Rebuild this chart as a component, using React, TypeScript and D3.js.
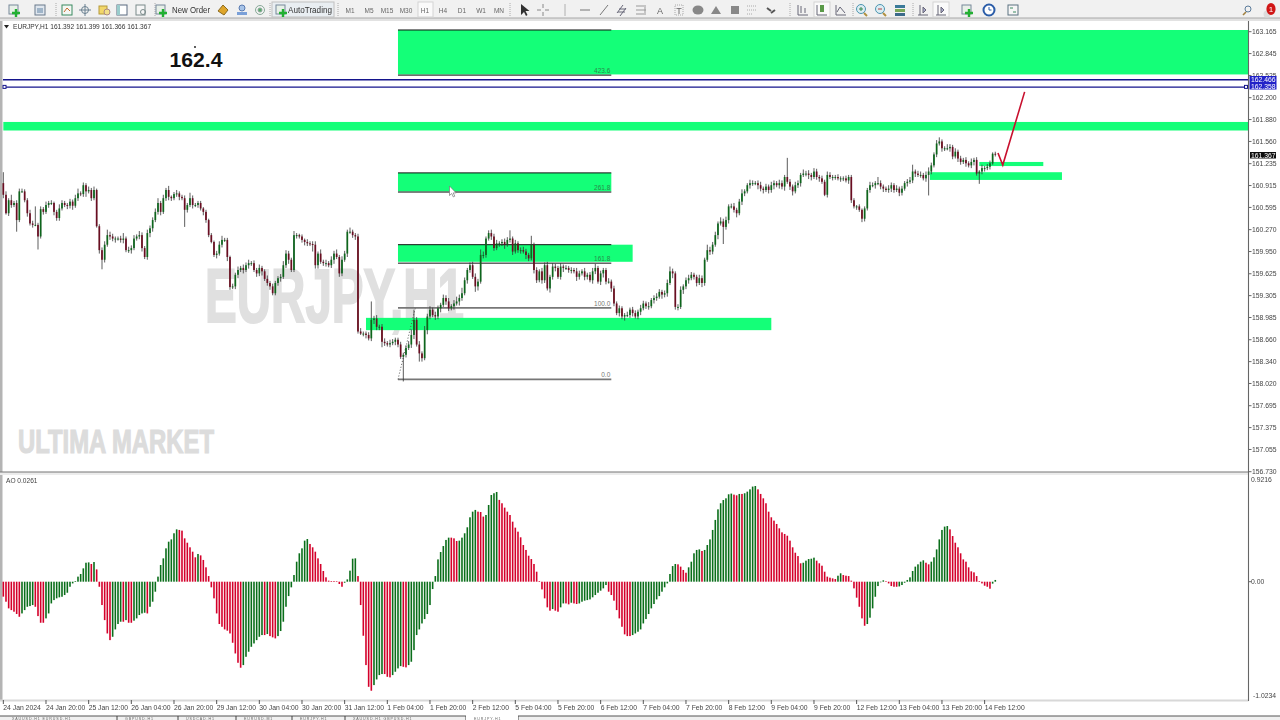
import React from "react";
import * as d3 from "d3";

const closes = [
160.78,160.51,160.70,160.63,160.66,160.41,160.83,160.83,160.70,160.51,
160.36,160.34,160.34,160.17,160.57,160.53,160.63,160.66,160.66,160.53,
160.44,160.58,160.66,160.63,160.62,160.68,160.62,160.73,160.80,160.79,
160.92,160.83,160.85,160.73,160.85,160.32,159.97,159.83,160.05,160.19,
160.17,160.14,160.14,160.14,160.12,160.14,159.97,159.97,160.00,160.14,
160.17,160.19,160.00,159.87,160.22,160.29,160.41,160.53,160.66,160.53,
160.73,160.85,160.75,160.73,160.79,160.80,160.75,160.73,160.56,160.63,
160.73,160.63,160.63,160.66,160.58,160.53,160.41,160.19,160.09,159.90,
159.92,160.05,160.12,160.12,159.87,159.43,159.44,159.61,159.68,159.71,
159.68,159.75,159.78,159.78,159.68,159.63,159.71,159.66,159.55,159.49,
159.44,159.34,159.49,159.56,159.58,159.75,159.92,159.83,159.68,160.19,
160.19,160.17,160.12,160.09,160.07,160.06,160.05,159.75,159.92,159.80,
159.78,159.78,159.75,
159.83,159.92,159.87,159.63,159.83,159.92,160.24,160.24,160.19,160.17,
158.78,158.75,158.75,158.73,158.68,158.95,158.97,158.85,158.85,158.63,
158.61,158.59,158.61,158.63,158.66,158.59,158.41,158.44,158.54,158.59,
158.73,158.95,158.59,158.46,158.39,158.80,159.00,159.10,159.02,159.00,
159.12,159.17,159.27,159.22,159.12,159.15,159.19,159.22,159.27,159.34,
159.53,159.68,159.75,159.58,159.44,159.51,159.90,159.90,160.14,160.22,
160.17,160.00,160.07,160.07,160.09,160.05,160.12,160.14,159.95,160.07,
159.97,159.97,159.95,159.90,159.85,160.05,159.68,159.53,159.66,159.53,
159.75,159.41,159.58,159.73,159.71,159.58,159.73,159.71,159.71,159.68,
159.68,159.66,159.58,159.63,159.66,159.58,159.61,159.53,159.66,159.71,
159.51,159.63,159.68,159.51,159.51,159.41,159.19,159.05,159.12,159.00,
159.02,159.02,159.10,159.05,159.00,159.07,159.12,159.19,159.15,159.15,
159.24,159.27,159.29,159.36,
159.32,159.34,159.49,159.66,159.63,159.14,159.14,159.39,159.44,159.53,
159.56,159.61,159.58,159.49,159.56,159.49,159.83,159.97,159.95,160.05,
160.19,160.36,160.39,160.31,160.41,160.61,160.61,160.56,160.51,160.68,
160.80,160.83,160.92,160.95,160.95,160.95,160.92,160.87,160.85,160.90,
160.85,160.92,160.95,160.92,160.95,160.90,161.04,160.97,160.90,160.83,
160.92,160.95,161.07,161.09,161.09,161.07,161.04,161.12,161.04,161.02,
160.97,160.78,161.07,161.04,161.04,161.04,161.02,161.02,161.02,160.99,
161.04,160.70,160.61,160.61,160.56,160.43,160.58,160.85,160.92,160.92,
160.95,160.95,160.90,160.87,160.85,160.87,160.92,160.85,160.87,160.81,
160.87,160.95,160.97,160.99,161.12,161.09,161.07,161.07,161.02,161.07,
161.12,161.21,161.37,161.53,161.56,161.46,161.46,161.46,161.48,161.34,
161.41,161.31,161.26,161.29,161.24,161.21,161.26,161.29,161.09,161.12,
161.17,161.17,161.19,161.24,161.38,161.37,
];

const wickUp = [
.16,.05,.03,.08,.03,.04,.04,.04,.03,.03,
.05,.04,.27,.03,.04,.03,.05,.03,.04,.02,
.03,.06,.04,.03,.03,.04,.03,.05,.07,.03,
.04,.03,.05,.03,.05,.02,.03,.04,.05,.08,
.05,.04,.03,.03,.04,.08,.03,.05,.04,.05,
.03,.06,.04,.03,.05,.04,.04,.05,.07,.03,
.05,.03,.06,.02,.03,.05,.03,.03,.04,.03,
.08,.04,.03,.03,.03,.02,.03,.02,.03,.02,
.04,.05,.06,.03,.03,.02,.04,.03,.05,.03,
.05,.04,.05,.03,.04,.03,.05,.03,.03,.05,
.03,.04,.03,.03,.04,.06,.05,.04,.03,.06,
.03,.02,.03,.02,.04,.03,.04,.05,.03,.06,
.03,.05,.03,.05,.04,.06,.03,.05,.04,.03,
.06,.03,.03,.04,.05,.03,.03,.04,.27,.04,
.05,.03,.04,.05,.03,.05,.04,.03,.03,.04,
.03,.04,.05,.08,.15,.04,.05,.03,.06,.04,
.05,.03,.05,.04,.03,.05,.04,.05,.03,.05,
.07,.05,.08,.04,.03,.04,.05,.05,.04,.08,
.05,.03,.04,.05,.04,.05,.03,.04,.05,.04,
.12,.03,.05,.03,.04,.05,.04,.03,.13,.03,
.04,.03,.05,.04,.05,.03,.05,.04,.03,.05,
.03,.04,.03,.04,.03,.05,.04,.03,.05,.03,
.04,.05,.06,.03,.04,.03,.03,.05,.03,.04,
.03,.04,.03,.03,.05,.03,.04,.04,.03,.05,
.04,.03,.06,.03,.04,.05,.04,.03,.04,.05,
.07,.04,.03,.04,.05,.03,.04,.05,.04,.03,
.03,.05,.04,.03,.08,.05,.04,.05,.03,.06,
.04,.05,.03,.04,.05,.03,.04,.06,.03,.03,
.05,.04,.03,.04,.05,.03,.04,.03,.05,.04,
.03,.05,.04,.03,.28,.04,.03,.05,.04,.03,
.06,.04,.05,.03,.05,.04,.03,.04,.03,.05,
.04,.03,.03,.04,.03,.03,.04,.03,.03,.03,
.02,.03,.02,.03,.03,.05,.04,.03,.09,.04,
.03,.03,.05,.04,.03,.05,.03,.04,.03,.04,
.05,.10,.03,.04,.05,.03,.05,.06,.04,.03,
.05,.06,.03,.03,.06,.04,.03,.05,.03,.04,
.03,.04,.03,.05,.03,.04,.02,.05,.03,.04,
.04,.02,.03,
];

const wickDown = [
.05,.02,.04,.04,.03,.17,.03,.02,.03,.05,
.03,.04,.02,.19,.03,.04,.03,.04,.03,.05,
.04,.04,.03,.03,.05,.04,.06,.03,.04,.03,
.04,.08,.03,.04,.03,.02,.05,.14,.04,.03,
.05,.04,.06,.03,.04,.05,.03,.04,.05,.03,
.03,.04,.05,.03,.04,.06,.05,.03,.04,.05,
.03,.04,.05,.04,.03,.04,.05,.03,.25,.04,
.03,.05,.03,.04,.03,.05,.04,.03,.02,.03,
.05,.03,.04,.03,.06,.04,.03,.04,.05,.03,
.05,.03,.05,.04,.03,.05,.04,.06,.03,.04,
.05,.03,.03,.04,.05,.03,.04,.06,.03,.03,
.05,.03,.04,.05,.04,.03,.10,.05,.05,.03,
.04,.05,.03,.04,.06,.03,.05,.04,.03,.05,
.03,.04,.05,.03,.02,.04,.05,.03,.04,.06,
.05,.05,.08,.04,.03,.04,.03,.05,.04,.03,
.36,.04,.03,.05,.06,.03,.12,.05,.03,.06,
.04,.03,.05,.04,.06,.03,.05,.04,.03,.05,
.03,.06,.04,.03,.05,.04,.03,.08,.06,.03,
.05,.04,.03,.05,.04,.03,.05,.04,.06,.03,
.04,.05,.03,.04,.05,.03,.06,.04,.03,.05,
.04,.03,.05,.04,.03,.06,.04,.05,.03,.04,
.06,.03,.04,.05,.03,.06,.04,.03,.05,.04,
.03,.05,.04,.03,.05,.06,.04,.03,.05,.04,
.03,.05,.04,.06,.03,.04,.05,.03,.04,.05,
.03,.04,.05,.03,.05,.04,.03,.06,.04,.05,
.03,.07,.04,.05,.03,.06,.04,.05,.03,.04,
.05,.03,.06,.04,.03,.05,.04,.03,.06,.03,
.25,.04,.05,.03,.04,.06,.03,.05,.04,.03,
.05,.04,.03,.06,.04,.05,.03,.05,.04,.06,
.03,.05,.04,.06,.03,.05,.06,.03,.04,.05,
.03,.04,.06,.05,.03,.04,.05,.03,.02,.04,
.03,.05,.04,.03,.05,.04,.03,.05,.04,.03,
.05,.03,.05,.04,.03,.04,.03,.05,.03,.04,
.05,.03,.04,.05,.04,.03,.05,.04,.03,.05,
.03,.04,.05,.03,.04,.03,.05,.30,.04,.03,
.04,.03,.05,.04,.03,.05,.04,.03,.05,.04,
.03,.05,.03,.04,.05,.03,.15,.04,.05,.03,
.04,.02,.03,
];

const aoValues = [
-0.13,-0.174,-0.232,-0.247,-0.261,-0.281,-0.305,-0.276,-0.247,-0.218,
-0.212,-0.203,-0.218,-0.299,-0.357,-0.357,-0.319,-0.276,-0.189,-0.16,
-0.145,-0.136,-0.131,-0.116,-0.096,-0.044,-0.015,0.006,0.044,0.067,
0.116,0.165,0.168,0.154,0.171,0.107,-0.044,-0.203,-0.334,-0.45,
-0.508,-0.479,-0.415,-0.368,-0.348,-0.348,-0.334,-0.357,-0.357,-0.339,
-0.319,-0.29,-0.276,-0.27,-0.276,-0.218,-0.174,-0.087,0.044,0.145,
0.203,0.29,0.348,0.368,0.421,0.455,0.45,0.444,0.377,0.339,
0.299,0.261,0.212,0.241,0.229,0.189,0.125,0.049,-0.049,-0.145,
-0.276,-0.368,-0.392,-0.415,-0.426,-0.45,-0.531,-0.624,-0.705,-0.748,
-0.725,-0.653,-0.609,-0.566,-0.537,-0.508,-0.479,-0.464,-0.464,-0.455,
-0.473,-0.484,-0.493,-0.473,-0.429,-0.348,-0.218,-0.125,-0.049,0.058,
0.174,0.247,0.29,0.357,0.371,0.328,0.299,0.261,0.203,0.154,
0.093,0.038,0.009,0.006,0.006,0.003,-0.02,
-0.044,-0.009,0.02,0.096,0.2,0.203,0.049,-0.203,-0.47,-0.725,
-0.914,-0.948,-0.899,-0.85,-0.812,-0.803,-0.803,-0.827,-0.832,-0.812,
-0.783,-0.754,-0.734,-0.74,-0.745,-0.725,-0.696,-0.595,-0.464,-0.415,
-0.363,-0.325,-0.281,-0.203,-0.064,0.049,0.194,0.258,0.31,0.363,
0.383,0.383,0.377,0.354,0.357,0.383,0.421,0.473,0.56,0.609,
0.624,0.609,0.606,0.566,0.58,0.667,0.754,0.769,0.78,0.711,
0.682,0.644,0.609,0.58,0.522,0.47,0.435,0.386,0.319,0.276,
0.226,0.197,0.154,0.087,0.006,-0.067,-0.145,-0.223,-0.252,-0.238,
-0.252,-0.261,-0.223,-0.189,-0.189,-0.197,-0.183,-0.189,-0.194,-0.189,
-0.174,-0.165,-0.16,-0.154,-0.136,-0.116,-0.096,-0.078,-0.058,-0.029,
-0.087,-0.116,-0.165,-0.247,-0.319,-0.392,-0.458,-0.473,-0.473,-0.464,
-0.45,-0.435,-0.415,-0.363,-0.325,-0.281,-0.232,-0.194,-0.154,-0.125,
-0.087,-0.049,-0.015,0.067,0.136,0.154,0.151,
0.131,0.102,0.078,0.125,0.174,0.247,0.276,0.281,0.267,0.276,
0.319,0.368,0.45,0.537,0.629,0.682,0.71,0.725,0.76,0.766,
0.757,0.751,0.763,0.763,0.769,0.783,0.803,0.827,0.832,0.803,
0.763,0.725,0.682,0.609,0.56,0.531,0.502,0.464,0.429,0.415,
0.4,0.357,0.299,0.252,0.223,0.16,0.165,0.183,0.197,0.2,
0.209,0.183,0.16,0.139,0.087,0.044,0.035,0.029,0.023,0.052,
0.073,0.058,0.052,0.049,0.009,-0.058,-0.139,-0.218,-0.319,-0.383,
-0.368,-0.313,-0.232,-0.131,-0.038,0,0.012,0.003,-0.015,-0.038,
-0.044,-0.044,-0.041,-0.029,-0.009,0.015,0.038,0.093,0.131,0.151,
0.174,0.186,0.165,0.151,0.174,0.212,0.281,0.368,0.45,0.479,
0.484,0.455,0.397,0.339,0.299,0.247,0.194,0.174,0.125,0.09,
0.081,0.049,0.006,-0.015,-0.035,-0.044,-0.061,-0.017,0.015,
];

const priceTicks = ["163.165","162.845","162.525","162.200","161.880","161.560","161.235","160.915","160.595","160.270","159.950","159.625","159.305","158.985","158.660","158.340","158.020","157.695","157.375","157.055","156.730"];
const timeLabels = ["24 Jan 2024","24 Jan 20:00","25 Jan 12:00","26 Jan 04:00","26 Jan 20:00","29 Jan 12:00","30 Jan 04:00","30 Jan 20:00","31 Jan 12:00","1 Feb 04:00","1 Feb 20:00","2 Feb 12:00","5 Feb 04:00","5 Feb 20:00","6 Feb 12:00","7 Feb 04:00","7 Feb 20:00","8 Feb 12:00","9 Feb 04:00","9 Feb 20:00","12 Feb 12:00","13 Feb 04:00","13 Feb 20:00","14 Feb 12:00"];

// [bar from, bar to, price low, price high]
const zones: number[][] = [
  [148, 468, 162.54, 163.19],
  [0, 468, 161.72, 161.845],
  [148, 228, 160.83, 161.10],
  [148, 236, 159.80, 160.05],
  [136, 288, 158.80, 158.98],
  [366, 390, 161.20, 161.26],
  [347.5, 397, 160.997, 161.11],
];
// [bar from, bar to, price, label, dark?]
const fibLevels: any[] = [
  [148, 228, 163.19, "", 1],
  [148, 228, 162.53, "423.6", 1],
  [148, 228, 161.10, "", 1],
  [148, 228, 160.82, "261.8", 1],
  [148, 228, 160.05, "", 1],
  [148, 228, 159.78, "161.8", 1],
  [148, 228, 159.125, "100.0", 0],
  [148, 228, 158.08, "0.0", 0],
];
const tradeLines = [162.466, 162.358];
const arrowBars = [373, 374.8, 383];
const arrowPrices = [161.39, 161.215, 162.285];
const tfLabels = ["M1","M5","M15","M30","H1","H4","D1","W1","MN"];
const tabLabels = ["XAUUSD,H1  EURUSD,H1","GBPUSD,H1","USDCAD,H1","EURUSD,M1","EURJPY,H1","XAUUSD,H1  GBPUSD,H1","EURJPY,H1"];

const FONT = "'Liberation Sans', Arial, sans-serif";

const x = d3.scaleLinear().domain([0, 372]).range([3.33, 995.3]);
const y = d3.scaleLinear().domain([156.73, 163.165]).range([471.7, 31.7]);
const yAo = d3.scaleLinear().domain([-1.0234, 0.9216]).range([699.4, 475.7]);

const PANE_R = 1248.5;
const UP = "#0b661b", DOWN = "#6b0a20";
const ZONE = "#14ff78";

function Icon({ cx, kind }: { cx: number; kind: string }) {
  const cy = 10;
  switch (kind) {
    case "plus": return <g><rect x={cx-5} y={cy-5} width={9} height={9} fill="#e8f0e8" stroke="#77889a"/><path d={`M${cx+2} ${cy-1}v8M${cx-2} ${cy+3}h8`} stroke="#22b030" strokeWidth={2.4}/></g>;
    case "doc": return <g><rect x={cx-5} y={cy-5} width={10} height={10} fill="#dfe6ee" stroke="#6a7a8c"/><rect x={cx-3} y={cy-2} width={6} height={5} fill="#9fb4c8"/></g>;
    case "green": return <g><rect x={cx-5} y={cy-5} width={10} height={10} fill="#f4f7f4" stroke="#3a8a60"/><path d={`M${cx-3} ${cy+2}l3-4 3 3`} stroke="#c86a2c" fill="none"/></g>;
    case "cross": return <g fill="none" stroke="#6a8090"><circle cx={cx} cy={cy} r={3.5}/><path d={`M${cx-6} ${cy}h12M${cx} ${cy-6}v12`}/></g>;
    case "yellow": return <g><rect x={cx-5} y={cy-4} width={8} height={8} fill="#f2d76a" stroke="#b59a3a"/><circle cx={cx+3} cy={cy+2} r={3} fill="#f2e08a" stroke="#a88"/></g>;
    case "win": return <g><rect x={cx-5} y={cy-5} width={10} height={10} fill="#fff" stroke="#5a6a80"/><rect x={cx-5} y={cy-5} width={3} height={10} fill="#9cc"/></g>;
    case "glass": return <g fill="none" stroke="#7a8a8a"><rect x={cx-5} y={cy-5} width={9} height={10} fill="#f6f6f6"/><circle cx={cx+2} cy={cy+2} r={2.5}/></g>;
    case "pen": return <path d={`M${cx-5} ${cy+1}l5-6 5 5-4 5z`} fill="#dea52c" stroke="#8a6a20"/>;
    case "person": return <g><circle cx={cx} cy={cy-2} r={3} fill="#a8c4e8" stroke="#5a7ab0"/><rect x={cx-5} y={cy+2} width={10} height={3} fill="#7aa0d8"/></g>;
    case "signal": return <g fill="none" stroke="#88a898"><circle cx={cx} cy={cy} r={4.5}/><circle cx={cx} cy={cy} r={2} fill="#5aa86a"/></g>;
    case "cursor": return <path d={`M${cx-2} ${cy-6}v11l3-3 2 4 1.5-1-2-4h4z`} fill="#333"/>;
    case "hair": return <path d={`M${cx-6} ${cy}h4M${cx+2} ${cy}h4M${cx} ${cy-6}v4M${cx} ${cy+2}v4`} stroke="#888"/>;
    case "v": return <path d={`M${cx} ${cy-6}v12`} stroke="#b0b0b0"/>;
    case "h": return <path d={`M${cx-5} ${cy}h10`} stroke="#777"/>;
    case "t": return <path d={`M${cx-4} ${cy+5}l8-10`} stroke="#777"/>;
    case "chan": return <path d={`M${cx-5} ${cy+3}l6-8M${cx-2} ${cy+6}l6-8M${cx-3} ${cy-1}h7M${cx-4} ${cy+2}h7`} stroke="#667" fill="none"/>;
    case "fib": return <path d={`M${cx-5} ${cy-4}h8M${cx-5} ${cy}h10M${cx-5} ${cy+4}h8M${cx+4} ${cy-5}v10`} stroke="#999" fill="none"/>;
    case "A": return <text x={cx} y={cy+3.5} fontSize={9} fontFamily={FONT} fill="#666" textAnchor="middle">A</text>;
    case "T": return <g><rect x={cx-4} y={cy-5} width={8} height={10} fill="none" stroke="#aaa" strokeDasharray="1 1"/><text x={cx} y={cy+3.5} fontSize={9} fontFamily={FONT} fill="#666" textAnchor="middle">T</text></g>;
    case "ell": return <ellipse cx={cx} cy={cy} rx={5.5} ry={4.5} fill="#888"/>;
    case "tri": return <path d={`M${cx-5} ${cy+4}l5-8 5 8z`} fill="#888"/>;
    case "rect": return <rect x={cx-4} y={cy-4} width={8} height={8} fill="#888"/>;
    case "dots": return <path d={`M${cx-5} ${cy-4}h10M${cx-5} ${cy}h10M${cx-5} ${cy+4}h6`} stroke="#aaa" strokeDasharray="1 1"/>;
    case "arrows": return <path d={`M${cx-5} ${cy-2}l4 3M${cx-1} ${cy+3}l4-3`} stroke="#555" strokeWidth={2}/>;
    case "c1": return <path d={`M${cx-5} ${cy+5}h10M${cx-5} ${cy+5}v-10M${cx-2} ${cy-4}v7M${cx+2} ${cy-2}v5`} stroke="#667" fill="none"/>;
    case "c2": return <g><path d={`M${cx-5} ${cy+5}h10M${cx-5} ${cy+5}v-10`} stroke="#667" fill="none"/><rect x={cx-2} y={cy-5} width={4} height={7} fill="#5a9a4a"/></g>;
    case "c3": return <path d={`M${cx-5} ${cy+5}h10M${cx-5} ${cy+5}v-10M${cx-4} ${cy+2}l3-5 5 6`} stroke="#667" fill="none"/>;
    case "zp": return <g fill="none" stroke="#4a94b0"><circle cx={cx-1} cy={cy-1} r={4.5} fill="#dcecf2"/><path d={`M${cx+2} ${cy+3}l3 3`} strokeWidth={2} stroke="#b09040"/><path d={`M${cx-3} ${cy-1}h4M${cx-1} ${cy-3}v4`} stroke="#3a8a50"/></g>;
    case "zm": return <g fill="none" stroke="#4a94b0"><circle cx={cx-1} cy={cy-1} r={4.5} fill="#dcecf2"/><path d={`M${cx+2} ${cy+3}l3 3`} strokeWidth={2} stroke="#b09040"/><path d={`M${cx-3} ${cy-1}h4`} stroke="#b04040"/></g>;
    case "tile": return <g><rect x={cx-5} y={cy-5} width={10} height={3} fill="#3a7a9a"/><rect x={cx-5} y={cy-1} width={10} height={3} fill="#7aa858"/><rect x={cx-5} y={cy+3} width={10} height={3} fill="#3a6a8a"/></g>;
    case "s1": return <path d={`M${cx-3} ${cy+5}v-10M${cx-5} ${cy+5}h10M${cx} ${cy-3}l3 3-3 3z`} stroke="#667" fill="#aac"/>;
    case "clock": return <g><circle cx={cx} cy={cy} r={5.5} fill="#fff" stroke="#2a5ca8" strokeWidth={2}/><path d={`M${cx} ${cy-3}v3h2.5`} stroke="#2a5ca8" fill="none"/></g>;
    case "box": return <g><rect x={cx-5} y={cy-5} width={10} height={10} fill="#f6f6f6" stroke="#5a7080"/><path d={`M${cx-3} ${cy-2}h3M${cx} ${cy+2}h3`} stroke="#3a8a60"/></g>;
    case "search": return <g fill="none" stroke="#5a7a9a"><circle cx={cx+1} cy={cy-1} r={3}/><path d={`M${cx-1} ${cy+2}l-3 3`} strokeWidth={1.6} stroke="#a08040"/></g>;
    case "alert": return <g><circle cx={cx-3} cy={cy+4} r={3.5} fill="#dcdcdc"/><ellipse cx={cx+1} cy={cy-1} rx={4.6} ry={6} fill="#d01414"/><text x={cx+1} y={cy+2} fontSize={8} fill="#fff" textAnchor="middle" fontFamily={FONT}>1</text></g>;
    default: return null;
  }
}

const toolIcons: [number, string][] = [
  [14,"plus"],[40,"doc"],[67,"green"],[85,"cross"],[104,"yellow"],[122,"win"],[141,"glass"],[161,"plus"],
  [223,"pen"],[242,"person"],[260,"signal"],[281,"plus"],[523,"cursor"],[543,"hair"],[565,"v"],[585,"h"],
  [604,"t"],[622,"chan"],[641,"fib"],[660,"A"],[679,"T"],[698,"ell"],[716,"tri"],[735,"rect"],[752,"dots"],[772,"arrows"],
  [803,"c1"],[822,"c2"],[841,"c3"],[862,"zp"],[881,"zm"],[900,"tile"],[923,"s1"],[941,"s1"],[967,"plus"],[989,"clock"],[1013,"box"],[1247,"search"],[1270,"alert"],
];
const tfX = [350,369,387,406,425,443,462,481,499];
const seps = [56,155,270,338,510,790,853,913];
const tabEdges = [117,178,236,292,345,466,518];
const tabStarts = [12,125,186,244,300,353,474];

export default function App() {
  const bw = 1.7;
  const aoZero = yAo(0);
  return (
    <svg width={1280} height={720} style={{ position: "fixed", left: 0, top: 0, background: "#fff" }} fontFamily={FONT}>
      <defs>
        <filter id="soft" x="-2%" y="-2%" width="104%" height="104%"><feGaussianBlur stdDeviation="0.35"/></filter>
      </defs>
      {/* toolbar */}
      <rect x={0} y={0} width={1280} height={18} fill="#f1f1f1"/>
      <rect x={0} y={18} width={1280} height={3} fill="#e2e2e2"/>
      <line x1={0} x2={1280} y1={18} y2={18} stroke="#a8a8a8"/>
      <g filter="url(#soft)">
        {seps.map(s => <path key={s} d={`M${s} 3v14`} stroke="#aaa" strokeDasharray="1 1"/>)}
        <rect x={272} y={2} width={62} height={15} fill="#e9eef2" stroke="#c0c0c0"/>
        <rect x={418} y={2} width={15} height={15} fill="#fafafa" stroke="#d4d4d4"/>
        <rect x={814} y={2} width={16} height={15} fill="#fafafa" stroke="#d4d4d4"/>
        <rect x={933} y={2} width={16} height={15} fill="#fafafa" stroke="#d4d4d4"/>
        {toolIcons.map(([cx, k], i) => <Icon key={i} cx={cx} kind={k}/>)}
        <text x={172} y={12.5} fontSize={8.6} fill="#333" textLength={38} lengthAdjust="spacingAndGlyphs">New Order</text>
        <text x={288} y={12.5} fontSize={8.6} fill="#333" textLength={44} lengthAdjust="spacingAndGlyphs">AutoTrading</text>
        {tfLabels.map((t, i) => <text key={t} x={tfX[i]} y={12.5} fontSize={6.5} fill="#666" textAnchor="middle">{t}</text>)}
      </g>

      {/* pane borders */}
      <rect x={0} y={21} width={2.5} height={680} fill="#b4b4b4"/>

      {/* watermarks */}
      <text x={205} y={322} fontSize={76} fontWeight="bold" fill="#e0e0e0" stroke="#e0e0e0" strokeWidth={2} textLength={259} lengthAdjust="spacingAndGlyphs">EURJPY,H1</text>
      <text x={18} y={453} fontSize={33} fontWeight="bold" fill="#dcdcdc" stroke="#dcdcdc" strokeWidth={1.2} textLength={196} lengthAdjust="spacingAndGlyphs">ULTIMA MARKET</text>

      {/* zones */}
      {zones.map((z, i) => (
        <rect key={i} x={x(z[0])} width={Math.min(x(z[1]), PANE_R) - x(z[0])} y={y(z[3])} height={y(z[2]) - y(z[3])} fill={ZONE}/>
      ))}

      {/* fib */}
      {fibLevels.map((f, i) => (
        <g key={i}>
          <line x1={x(f[0])} x2={x(f[1])} y1={y(f[2])} y2={y(f[2])} stroke={f[4] ? "#111" : "#777"} strokeWidth={f[4] ? 1 : 1.8}/>
          {f[3] && <text x={x(f[1]) - 1} y={y(f[2]) - 2} fontSize={6.5} fill={f[4] ? "#2a8a4a" : "#777"} textAnchor="end">{f[3]}</text>}
        </g>
      ))}
      <line x1={x(148)} y1={y(158.08)} x2={x(154.5)} y2={y(159.125)} stroke="#555" strokeDasharray="1 2"/>

      {/* candles */}
      <g filter="url(#soft)">
        {closes.map((c, i) => {
          const o = i === 0 ? 160.95 : closes[i - 1];
          const top = Math.max(o, c), bot = Math.min(o, c);
          const col = c >= o ? UP : DOWN;
          const h = top + (wickUp[i] ?? 0.03), l = bot - (wickDown[i] ?? 0.03);
          return (
            <g key={i}>
              <line x1={x(i)} x2={x(i)} y1={y(h)} y2={y(l)} stroke="#333" strokeWidth={0.8}/>
              <rect x={x(i) - bw / 2} width={bw} y={y(top)} height={Math.max(y(bot) - y(top), 1)} fill={col}/>
            </g>
          );
        })}
      </g>

      {/* blue lines */}
      {tradeLines.map(p => <line key={p} x1={3} x2={PANE_R} y1={y(p) + 0.2} y2={y(p) + 0.2} stroke="#14148c" strokeWidth={1.4}/>)}
      <rect x={3} y={y(162.358) - 1.5} width={3} height={3} fill="#fff" stroke="#14148c"/>
      <rect x={1244.5} y={y(162.358) - 1.5} width={3} height={3} fill="#fff" stroke="#14148c"/>

      {/* arrow */}
      <path d={d3.line<number>().x(b => x(b)).y((_, i) => y(arrowPrices[i]))(arrowBars) as string} fill="none" stroke="#c8102e" strokeWidth={1.6}/>

      {/* cursor */}
      <path d="M449.5 186v9.5l2.2-2 1.6 3.4 1.5-.7-1.6-3.3h3z" fill="#fff" stroke="#777" strokeWidth={0.7}/>

      {/* headers */}
      <g filter="url(#soft)">
        <path d="M4 25h5l-2.5 3.5z" fill="#222"/>
        <text x={13} y={29} fontSize={6.6} fill="#333">EURJPY,H1  161.392 161.399 161.366 161.367</text>
        <text x={6} y={483} fontSize={6.6} fill="#444">AO 0.0261</text>
      </g>
      <circle cx={195} cy={47} r={0.9} fill="#111"/>
      <text x={169.5} y={67} fontSize={19.5} fontWeight="bold" fill="#111" textLength={53} lengthAdjust="spacingAndGlyphs">162.4</text>

      {/* AO */}
      <g>
        {aoValues.map((v, i) => {
          const up = i === 0 ? false : v > aoValues[i - 1];
          const ty = Math.min(yAo(v), aoZero), hh = Math.max(Math.abs(yAo(v) - aoZero), 0.6);
          return <rect key={i} x={x(i) - 0.8} width={1.6} y={ty} height={hh} fill={up ? "#0a6e1a" : "#d4002a"}/>;
        })}
      </g>

      {/* separators and axes */}
      <rect x={0} y={472} width={PANE_R} height={3} fill="#ececec"/>
      <line x1={0} x2={PANE_R} y1={472} y2={472} stroke="#777" strokeWidth={1.2}/>
      <rect x={0} y={699.5} width={PANE_R} height={2} fill="#d8d8d8"/>
      <line x1={PANE_R} x2={PANE_R} y1={21} y2={701} stroke="#666" strokeWidth={1.1}/>
      <g filter="url(#soft)">
        {priceTicks.map(t => {
          const yy = y(+t);
          return (
            <g key={t}>
              <line x1={PANE_R} x2={PANE_R + 3} y1={yy} y2={yy} stroke="#666"/>
              <text x={1252} y={yy + 2.5} fontSize={6.8} fill="#444">{t}</text>
            </g>
          );
        })}
        <rect x={1249.5} y={76} width={27} height={13.5} fill="#2222c8"/>
        {tradeLines.map(p => <text key={p} x={1251} y={y(p) + 2.6} fontSize={6.8} fill="#fff">{p.toFixed(3)}</text>)}
        <rect x={1250} y={152} width={26} height={6.5} fill="#111"/>
        <text x={1251} y={157.6} fontSize={6.8} fill="#fff">161.367</text>
        <text x={1251} y={482} fontSize={6.8} fill="#444">0.9216</text>
        <text x={1251} y={yAo(0) + 2.5} fontSize={6.8} fill="#444">0.00</text>
        <text x={1253} y={698} fontSize={6.8} fill="#444">-1.0234</text>
        <line x1={PANE_R} x2={PANE_R + 3} y1={yAo(0)} y2={yAo(0)} stroke="#666"/>
        {timeLabels.map((t, i) => {
          const tx = x(16 * i);
          return (
            <g key={t}>
              <line x1={tx} x2={tx} y1={700} y2={704} stroke="#555"/>
              <text x={tx} y={709.5} fontSize={6.8} fill="#444">{t}</text>
            </g>
          );
        })}
      </g>

      {/* bottom tabs */}
      <rect x={0} y={716} width={1280} height={4} fill="#f0f0f0"/>
      <line x1={0} x2={1280} y1={716} y2={716} stroke="#555"/>
      <g filter="url(#soft)">
        {tabEdges.map(e => <line key={e} x1={e} x2={e} y1={716} y2={720} stroke="#444"/>)}
        <rect x={466} y={715} width={52} height={5} fill="#fff"/>
        {tabLabels.map((t, i) => (
          <text key={i} x={tabStarts[i]} y={719.8} fontSize={3.6} letterSpacing={0.9} fill="#666">{t}</text>
        ))}
      </g>
    </svg>
  );
}
